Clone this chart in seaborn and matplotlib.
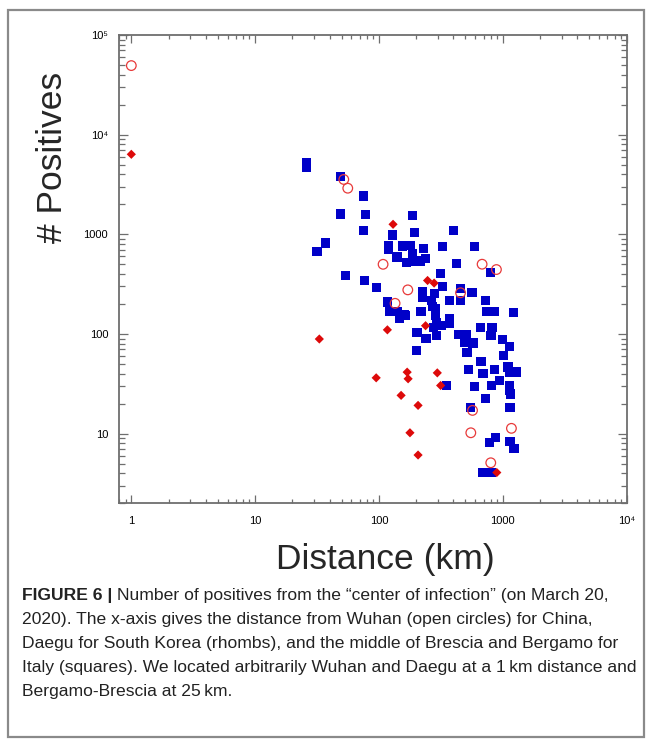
import numpy as np
import pandas as pd
import matplotlib
matplotlib.use("Agg")
import matplotlib.pyplot as plt
import matplotlib.ticker as mticker
from matplotlib.patches import Rectangle
import seaborn as sns

# China, distance from Wuhan (open circles)
china_km = [1, 52, 56, 108, 171, 135, 456, 681, 889, 570, 552, 1175, 800]
china_pos = [49300, 3550, 2900, 500, 277, 203, 259, 501, 443, 17.1, 10.2, 11.3, 5.1]

# South Korea, distance from Daegu (rhombs)
korea_km = [1, 33, 130, 117, 238, 247, 279, 95, 169, 172, 296, 315, 151, 207, 178, 207, 895]
korea_pos = [6350, 89, 1260, 110, 121, 344, 324, 36.3, 41.4, 35.5, 40.7, 30.4, 24.2, 19.2, 10.2, 6.1, 4.07]

# Italy, distance from Brescia/Bergamo (squares)
italy_km = [26, 26, 49, 75, 49, 78, 75, 37, 31.6, 53.5, 77,
            186, 195, 398, 128, 119, 119, 155, 179, 229, 327, 594,
            140, 186, 167, 193, 237, 215, 423, 795, 316, 95, 327, 453, 565, 226, 226, 279,
            266, 372, 456, 726, 117, 123, 142, 162, 219, 288, 288, 742, 857, 1227, 374,
            146, 165, 270,
            203, 240, 292, 274, 292, 320, 374, 201, 436, 509, 494, 575, 515, 665, 820, 803,
            995, 1138, 1013, 668, 861, 528, 693, 1104, 1138, 1290, 946, 811, 594, 352,
            1138, 1138, 1161, 726, 545, 1144, 778, 879, 1144, 1233, 693, 750, 811]
italy_pos = [5200, 4640, 3780, 2420, 1600, 1590, 1100, 818, 676, 383, 341,
             1549, 1040, 1100, 985, 776, 708, 764, 776, 719, 759, 759,
             593, 646, 521, 530, 571, 540, 513, 414, 404, 295, 302, 288, 262, 269, 233, 257,
             215, 216, 216, 216, 209, 167, 167, 155, 167, 178, 152, 167, 167, 165, 141,
             143, 152, 190,
             104, 90.6, 96, 117, 131, 121, 129, 68, 98, 98, 82.6, 81, 64.6, 117, 117, 96,
             87.7, 74.7, 60.7, 52.8, 43.7, 43.7, 39.8, 46.5, 40.7, 41.5, 34.1, 30.4, 29.7, 30.4,
             30.4, 27, 25, 22.4, 18.3, 18.3, 8.1, 9.2, 8.3, 7.1, 4.07, 4.07, 4.07]

x_ticks = [1, 10, 100, 1000, 10000]
x_ticklabels = ["1", "10", "100", "1000", "10\u2074"]
y_ticks = [10, 100, 1000, 10000, 100000]
y_ticklabels = ["10", "100", "1000", "10\u2074", "10\u2075"]

sns.set_theme(style="ticks")
plt.rcParams["font.family"] = ["Liberation Sans", "DejaVu Sans"]

frame_col = "#6e6e6e"
blue = "#0000c8"
red = "#dd0a0a"

fig = plt.figure(figsize=(6.52, 7.41), dpi=100)
ax = fig.add_axes([0.183, 0.3208, 0.778, 0.632])

sns.scatterplot(x=italy_km, y=italy_pos, marker="s", s=44, color=blue,
                edgecolor="none", linewidth=0, ax=ax, zorder=2)
sns.scatterplot(x=korea_km, y=korea_pos, marker="D", s=22, color=red,
                edgecolor="none", linewidth=0, ax=ax, zorder=3)
ax.scatter(china_km, china_pos, marker="o", s=48, facecolors="none",
           edgecolors="#e83a3a", linewidths=0.9, zorder=4)

ax.set_xscale("log")
ax.set_yscale("log")
ax.set_xlim(0.8, 1e4)
ax.set_ylim(2, 1e5)

ax.set_xticks(x_ticks)
ax.set_xticklabels(x_ticklabels)
ax.set_yticks(y_ticks)
ax.set_yticklabels(y_ticklabels)
ax.xaxis.set_minor_locator(mticker.LogLocator(base=10, subs=np.arange(2, 10), numticks=20))
ax.yaxis.set_minor_locator(mticker.LogLocator(base=10, subs=np.arange(2, 10), numticks=20))
ax.xaxis.set_minor_formatter(mticker.NullFormatter())
ax.yaxis.set_minor_formatter(mticker.NullFormatter())

ax.tick_params(axis="both", which="both", direction="in", top=True, right=True,
               color=frame_col, width=0.9, labelsize=8, labelcolor="black")
ax.tick_params(axis="x", which="major", length=6, pad=9.5)
ax.tick_params(axis="x", which="minor", length=3)
ax.tick_params(axis="y", which="major", length=6.5, pad=8)
ax.tick_params(axis="y", which="minor", length=4.5)
for sp in ax.spines.values():
    sp.set_color(frame_col)
    sp.set_linewidth(1.3)
ax.set_xlabel("")
ax.set_ylabel("")

fig.text(52 / 652, 1 - 157 / 741, "# Positives", rotation=90, fontsize=25.5,
         ha="center", va="center")
fig.text(385 / 652, 1 - 560 / 741, "Distance (km)", fontsize=25.5,
         ha="center", va="center")

# caption
cap_size = 12.6
x0 = 22 / 652
base = [600, 624, 648, 672, 696]
lines = [
    "Number of positives from the \u201ccenter of infection\u201d (on March 20,",
    "2020). The x-axis gives the distance from Wuhan (open circles) for China,",
    "Daegu for South Korea (rhombs), and the middle of Brescia and Bergamo for",
    "Italy (squares). We located arbitrarily Wuhan and Daegu at a 1\u2009km distance and",
    "Bergamo-Brescia at 25\u2009km.",
]
t_bold = fig.text(x0, 1 - base[0] / 741, "FIGURE 6 | ", fontsize=cap_size,
                  fontweight="bold", va="baseline", ha="left", color="#222222")
renderer = fig.canvas.get_renderer()
bb = t_bold.get_window_extent(renderer)
x1 = bb.x1 / fig.bbox.width
fig.text(x1, 1 - base[0] / 741, lines[0], fontsize=cap_size, va="baseline",
         ha="left", color="#222222")
for yb, ln in zip(base[1:], lines[1:]):
    fig.text(x0, 1 - yb / 741, ln, fontsize=cap_size, va="baseline", ha="left",
             color="#222222")

fig.patches.append(Rectangle((7.5 / 652, 1 - 737 / 741), (644 - 7.5) / 652, (737 - 10) / 741,
                             transform=fig.transFigure, fill=False,
                             edgecolor="#8a8a8a", linewidth=1.6))

fig.savefig("out.png", dpi=100)
